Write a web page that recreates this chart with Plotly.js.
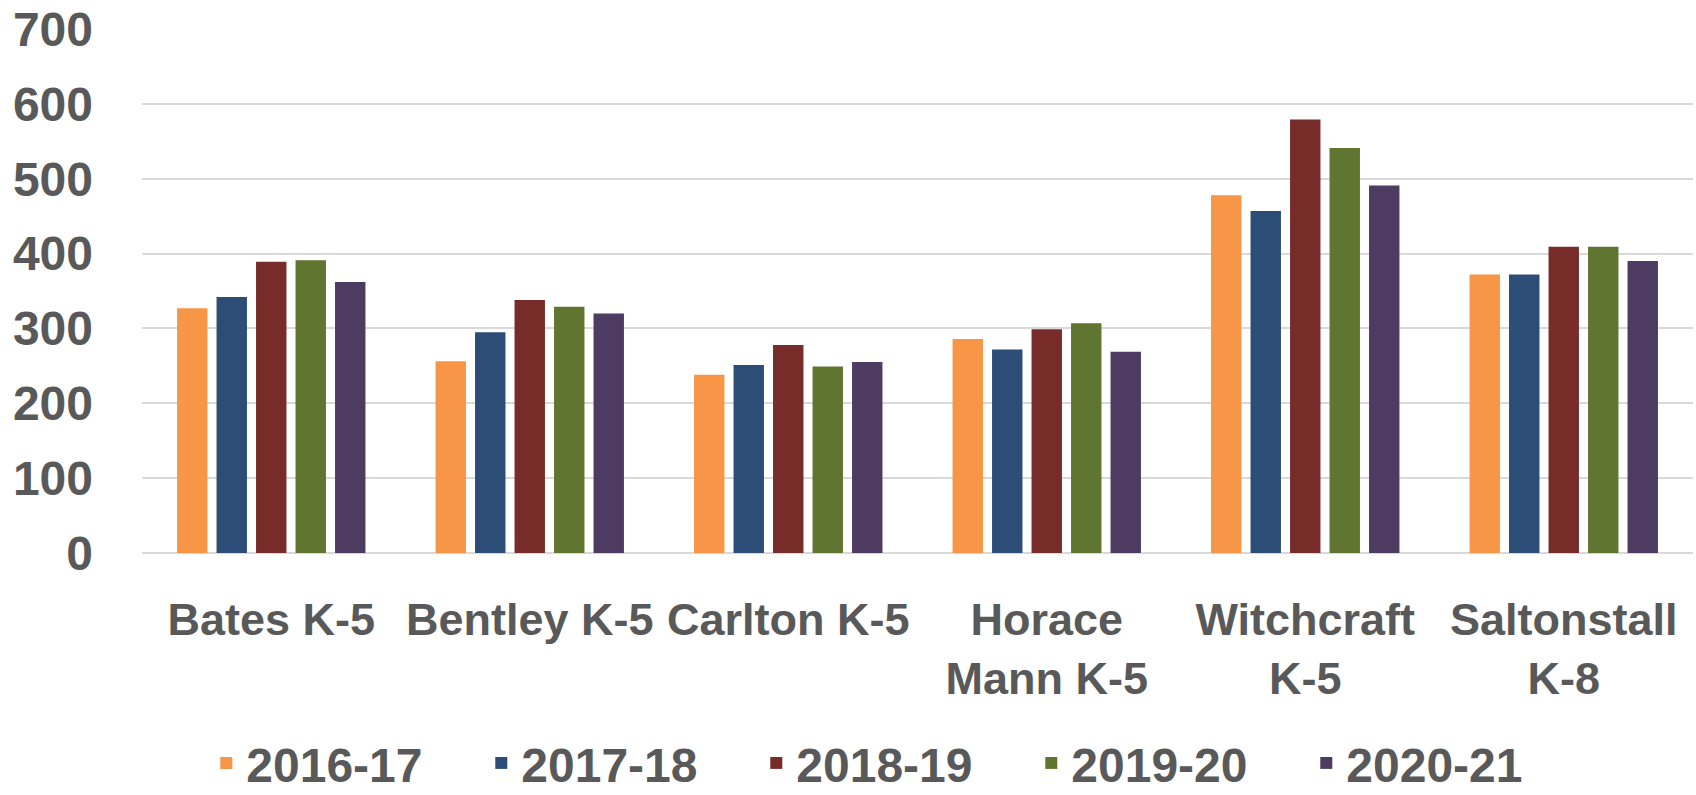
<!DOCTYPE html>
<html>
<head>
<meta charset="utf-8">
<script src="https://cdn.plot.ly/plotly-3.0.1.min.js"></script>
<style>
  html, body { margin: 0; padding: 0; background: #ffffff; }
  #chart { width: 1696px; height: 795px; }
</style>
</head>
<body>
<div id="chart"></div>
<script>
// schools on the x axis
const schools = ["Bates K-5", "Bentley K-5", "Carlton K-5", "Horace<br>Mann K-5", "Witchcraft<br>K-5", "Saltonstall<br>K-8"];

// enrollment per school year
const years = ["2016-17", "2017-18", "2018-19", "2019-20", "2020-21"];
const y2016 = [327, 256, 238, 286, 478, 372];
const y2017 = [342, 295, 251, 272, 457, 372];
const y2018 = [389, 338, 278, 299, 579, 409];
const y2019 = [391, 329, 249, 307, 541, 409];
const y2020 = [362, 320, 255, 269, 491, 390];
const colors = ["#F79646", "#2C4D75", "#772C2A", "#5F7530", "#4D3B62"];

const textColor = "#595959";
const font = "Liberation Sans, Arial, sans-serif";

const series = [y2016, y2017, y2018, y2019, y2020];
const traces = series.map((vals, i) => ({
  type: "bar",
  name: years[i],
  x: schools,
  y: vals,
  marker: { color: colors[i], line: { width: 0 } },
  hoverinfo: "x+y+name",
}));

const layout = {
  width: 1696,
  height: 795,
  paper_bgcolor: "#ffffff",
  plot_bgcolor: "#ffffff",
  margin: { l: 142, r: 3, t: 29, b: 242 },
  barmode: "group",
  bargap: 0.236,
  bargroupgap: 0.23,
  font: { family: font, color: textColor, size: 45, weight: "bold" },
  xaxis: {
    showgrid: false,
    showline: false,
    zeroline: false,
    ticks: "",
    tickfont: { family: font, size: 45, color: textColor, weight: "bold" },
    ticklabelstandoff: 36,
    tickangle: 0,
  },
  yaxis: {
    range: [0, 700],
    tickmode: "linear",
    tick0: 0,
    dtick: 100,
    showgrid: true,
    gridcolor: "#D9D9D9",
    gridwidth: 2,
    zeroline: true,
    zerolinecolor: "#D9D9D9",
    zerolinewidth: 2,
    showline: false,
    ticks: "",
    tickfont: { family: font, size: 48, color: textColor, weight: "bold" },
    ticklabelstandoff: 48,
  },
  showlegend: true,
  legend: {
    orientation: "h",
    xref: "container",
    yref: "container",
    x: 0.527,
    xanchor: "center",
    y: 0.04,
    yanchor: "middle",
    font: { family: font, size: 48, color: textColor, weight: "bold" },
    itemwidth: 30,
    entrywidth: 230,
    traceorder: "normal",
  },
};

Plotly.newPlot("chart", traces, layout, { displayModeBar: false, staticPlot: true });
</script>
</body>
</html>
